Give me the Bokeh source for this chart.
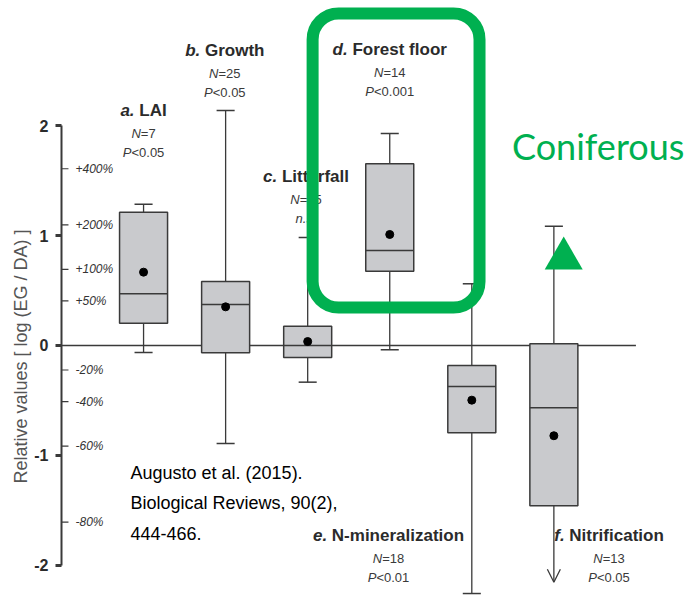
import math

from bokeh.plotting import figure
from bokeh.models import (ColumnDataSource, FixedTicker, Range1d, BoxAnnotation,
                          Arrow, OpenHead, Title)
from bokeh.core.properties import value
from bokeh.embed import file_html
from bokeh.resources import INLINE

# ---------------------------------------------------------------- data
panels = ["a", "b", "c", "d", "e", "f"]
names = ["LAI", "Growth", "Litterfall", "Forest floor", "N-mineralization", "Nitrification"]
n_obs = [7, 25, 15, 14, 18, 13]
p_vals = ["<0.05", "<0.05", "n.s.", "<0.001", "<0.01", "<0.05"]

# log-ratio statistics (ln EG/DA)
whisk_hi = [1.287, 2.140, 0.984, 1.930, 0.562, 1.087]
q3 = [1.214, 0.583, 0.176, 1.655, -0.182, 0.015]
median = [0.471, 0.373, 0.000, 0.865, -0.373, -0.567]
q1 = [0.203, -0.067, -0.109, 0.677, -0.795, -1.460]
whisk_lo = [-0.064, -0.893, -0.334, -0.039, -2.259, -2.156]
mean = [0.668, 0.352, 0.036, 1.011, -0.498, -0.822]
open_lower = [False, False, False, False, False, True]

major_ticks = [-2, -1, 0, 1, 2]
pct_ticks = [400, 200, 100, 50, -20, -40, -60, -80]

citation = ["Augusto et al. (2015).", "Biological Reviews, 90(2),", "444-466."]
highlight = "Coniferous"

# ---------------------------------------------------------------- layout
xs = [i + 1 for i in range(len(names))]
BOX_W = 0.585
CAP_W = 0.22
# label anchors (x in box units, y = baseline of the bold title)
label_x = [1.0, 1.99, 2.98, 4.0, 3.985, 6.672]
label_y = [2.138, 2.690, 1.537, 2.696, -1.727, -1.727]

FONT = "Liberation Sans"
INK = "#3a3a3a"
GREEN = "#00b050"

# Liberation Sans (Arial-metric) advance widths, 1/1000 em
REG = {" ": 278, "%": 889, "(": 333, ")": 333, "+": 584, ",": 278, "-": 333, ".": 278,
       "/": 278, "<": 584, "=": 584, "N": 722, "P": 667, "n": 556, "s": 500}
for d in "0123456789":
    REG[d] = 556
BOLD = {" ": 278, ".": 278, "-": 333, "A": 722, "F": 611, "G": 778, "I": 278, "L": 611,
        "N": 722, "a": 556, "b": 611, "c": 556, "d": 611, "e": 556, "f": 333, "h": 611,
        "i": 278, "l": 278, "m": 889, "n": 611, "o": 611, "r": 389, "s": 556, "t": 333,
        "w": 778, "z": 500}


def advance(s, table):
    return sum(table.get(ch, 556) for ch in s) / 1000.0


runs_by_style = {}


def styled_line(runs, x, y, size, dy):
    """Centre a line made of differently styled runs on (x, y)."""
    tables = [BOLD if "bold" in st else REG for _, st in runs]
    widths = [advance(t, tb) * size for (t, _), tb in zip(runs, tables)]
    off = -sum(widths) / 2.0
    for (t, st), tb, w in zip(runs, tables, widths):
        body = t.lstrip(" ")
        lead = advance(t[:len(t) - len(body)], tb) * size
        runs_by_style.setdefault((st, size), []).append((x, y, body, off + lead, dy))
        off += w


p = figure(width=690, height=595, x_range=Range1d(0, 7.665), y_range=Range1d(-2.277, 3.142),
           x_axis_type=None, toolbar_location=None, output_backend="svg",
           min_border_left=61, min_border_right=0, min_border_top=0, min_border_bottom=0)
p.outline_line_color = None
p.grid.visible = False
p.background_fill_color = "white"
p.border_fill_color = "white"

# y axis: log ratio with bold integer ticks
ax = p.yaxis[0]
ax.ticker = FixedTicker(ticks=major_ticks)
ax.major_label_overrides = {t: str(t) for t in major_ticks}
ax.bounds = (-2, 2)
ax.axis_line_width = 2
ax.axis_line_color = INK
ax.major_tick_line_width = 3
ax.major_tick_line_color = INK
ax.major_tick_out = 6
ax.major_tick_in = 0
ax.minor_tick_out = 0
ax.minor_tick_in = 0
ax.major_label_standoff = 7
ax.major_label_text_font = FONT
ax.major_label_text_font_style = "bold"
ax.major_label_text_font_size = "16px"
ax.major_label_text_color = "#2b2b2b"

# axis title, starting from the bottom of the frame
p.add_layout(Title(text="Relative values [ log (EG / DA) ]", align="left", offset=112,
                   text_font=FONT, text_font_size="18px", text_font_style="normal",
                   text_color="#555555", standoff=2), "left")

# percentage ticks inside the axis
pct_y = [math.log(1 + v / 100.0) for v in pct_ticks]
pct_lbl = [("+%d%%" % v) if v > 0 else ("%d%%" % v) for v in pct_ticks]
p.segment(x0=[0] * len(pct_y), x1=[0.085] * len(pct_y), y0=pct_y, y1=pct_y,
          line_color=INK, line_width=1.2)
p.text(x=[0] * len(pct_y), y=pct_y, text=pct_lbl, x_offset=14, text_font=value(FONT),
       text_font_style="italic", text_font_size="12px", text_color="#333333",
       text_baseline="middle", text_align="left")

# zero reference line
p.segment(x0=[0], x1=[7.0], y0=[0], y1=[0], line_color=INK, line_width=1.3)

# whiskers
src = ColumnDataSource(dict(
    x=xs, hi=whisk_hi, q3=q3, med=median, q1=q1, lo=whisk_lo, mean=mean,
    left=[x - BOX_W / 2 for x in xs], right=[x + BOX_W / 2 for x in xs],
    cl=[x - CAP_W / 2 for x in xs], cr=[x + CAP_W / 2 for x in xs]))
p.segment(x0="x", x1="x", y0="q3", y1="hi", source=src, line_color=INK, line_width=1.3)
p.segment(x0="cl", x1="cr", y0="hi", y1="hi", source=src, line_color=INK, line_width=1.5)

closed = [i for i, o in enumerate(open_lower) if not o]
lo_src = ColumnDataSource(dict(
    x=[xs[i] for i in closed], q1=[q1[i] for i in closed], lo=[whisk_lo[i] for i in closed],
    cl=[xs[i] - CAP_W / 2 for i in closed], cr=[xs[i] + CAP_W / 2 for i in closed]))
p.segment(x0="x", x1="x", y0="q1", y1="lo", source=lo_src, line_color=INK, line_width=1.3)
p.segment(x0="cl", x1="cr", y0="lo", y1="lo", source=lo_src, line_color=INK, line_width=1.5)

for i, o in enumerate(open_lower):
    if o:
        p.add_layout(Arrow(x_start=xs[i], y_start=q1[i], x_end=xs[i], y_end=whisk_lo[i],
                           line_color=INK, line_width=1.3,
                           end=OpenHead(size=13, line_color=INK, line_width=1.3)))

# boxes, medians, means
p.vbar(x="x", width=BOX_W, top="q3", bottom="q1", source=src, fill_color="#c9cacd",
       line_color=INK, line_width=1.5)
p.segment(x0="left", x1="right", y0="med", y1="med", source=src, line_color=INK, line_width=1.5)
p.scatter(x="x", y="mean", source=src, size=8, color="black")

# panel titles and statistics
for i in range(len(names)):
    styled_line([(panels[i] + ".", "bold italic"), (" " + names[i], "bold")],
                label_x[i], label_y[i], 17, 0)
    styled_line([("N", "italic"), ("=%d" % n_obs[i], "normal")], label_x[i], label_y[i], 13, 23)
    if p_vals[i].startswith("<"):
        styled_line([("P", "italic"), (p_vals[i], "normal")], label_x[i], label_y[i], 13, 42)
    else:
        styled_line([(p_vals[i], "italic")], label_x[i], label_y[i], 13, 42)

for (style, size), rows in runs_by_style.items():
    x, y, t, xo, yo = zip(*rows)
    p.text(x=list(x), y=list(y), text=list(t), x_offset=list(xo), y_offset=list(yo),
           text_font=value(FONT), text_font_style=style, text_font_size="%dpx" % size,
           text_color="#2b2b2b" if size > 15 else "#3a3a3a",
           text_align="left", text_baseline="alphabetic")

# reference
p.text(x=[0.841] * len(citation), y=[-1.157] * len(citation), text=citation,
       y_offset=[30.5 * k for k in range(len(citation))], text_font=value(FONT),
       text_font_size="18px", text_color="black", text_align="left",
       text_baseline="alphabetic")

# highlight of the coniferous-driven forest floor response
p.add_layout(BoxAnnotation(left=3.06, right=5.094, top=3.024, bottom=0.346,
                           fill_color=None, fill_alpha=0, line_color=GREEN, line_alpha=1.0,
                           line_width=12, border_radius=26))
p.scatter(x=[6.12], y=[0.792], marker="triangle", size=38, fill_color=GREEN, line_color=None)
p.text(x=[5.49], y=[1.82], text=[highlight], text_font=value("Lato"), text_font_size="36px",
       text_color=GREEN, text_align="left", text_baseline="alphabetic")

open("out.html", "w").write(file_html(p, INLINE))
